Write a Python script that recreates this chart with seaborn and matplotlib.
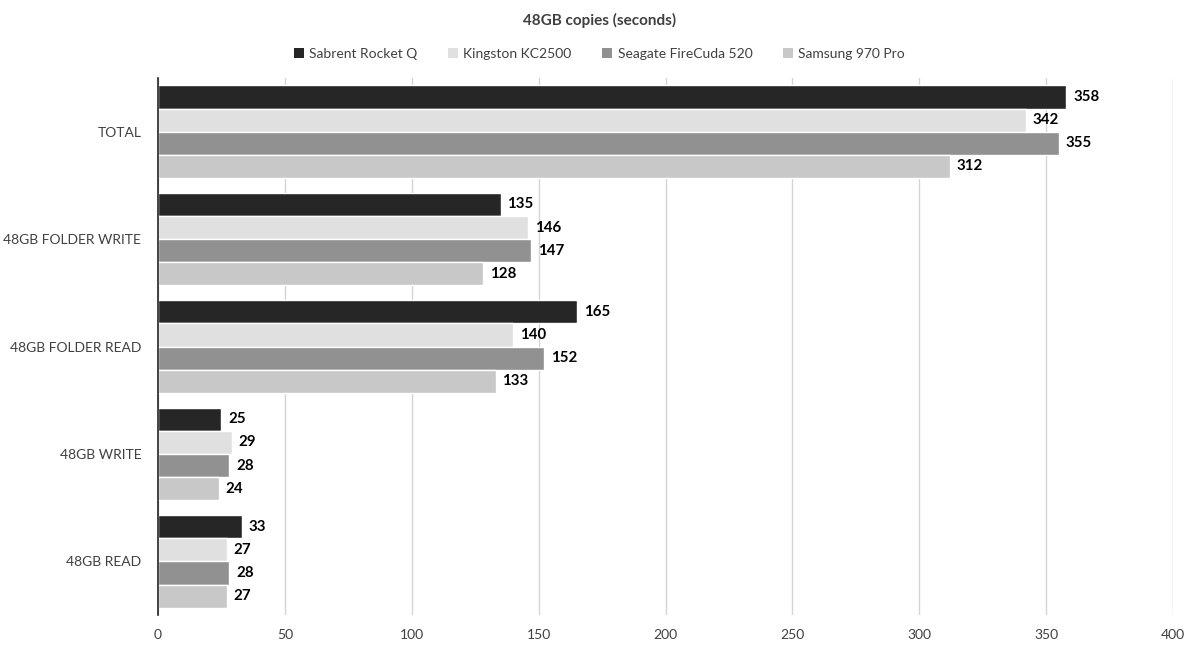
import matplotlib
matplotlib.use("Agg")
import matplotlib.pyplot as plt
import seaborn as sns
import pandas as pd
from matplotlib.patches import Patch

categories = ["TOTAL", "48GB FOLDER WRITE", "48GB FOLDER READ", "48GB WRITE", "48GB READ"]
drives = ["Sabrent Rocket Q", "Kingston KC2500", "Seagate FireCuda 520", "Samsung 970 Pro"]
sabrent = [358, 135, 165, 25, 33]
kingston = [342, 146, 140, 29, 27]
seagate = [355, 147, 152, 28, 28]
samsung = [312, 128, 133, 24, 27]
colors = ["#262626", "#e0e0e0", "#919191", "#c8c8c8"]
xticks = [0, 50, 100, 150, 200, 250, 300, 350, 400]

rows = []
for drv, vals in zip(drives, [sabrent, kingston, seagate, samsung]):
    for c, v in zip(categories, vals):
        rows.append({"cat": c, "drive": drv, "value": v})
df = pd.DataFrame(rows)

sns.set_theme(style="white")
plt.rcParams['font.family'] = ['Lato', 'DejaVu Sans']

fig = plt.figure(figsize=(11.99, 6.53), dpi=100)
ax = fig.add_axes([0.1318, 0.058, 0.8465, 0.8226])

sns.barplot(data=df, y="cat", x="value", hue="drive", order=categories,
            hue_order=drives, palette=colors, orient="h", width=0.86,
            edgecolor="white", linewidth=1, ax=ax, legend=False, errorbar=None)

for cont in ax.containers:
    ax.bar_label(cont, fmt="%d", padding=5, fontsize=10.8, fontweight="bold", color="black")

ax.set_xlim(0, 400)
ax.set_ylim(4.5, -0.5)
ax.set_xticks(xticks)
ax.set_xticklabels([str(t) for t in xticks])
ax.xaxis.grid(True, color="#d4d4d4", linewidth=1)
ax.set_axisbelow(True)
ax.set_xlabel("")
ax.set_ylabel("")
for s in ["top", "right", "bottom"]:
    ax.spines[s].set_visible(False)
ax.spines["left"].set_color("#222222")
ax.spines["left"].set_linewidth(1.2)
ax.tick_params(axis="x", length=0, pad=10, labelsize=10, colors="#404040")
ax.tick_params(axis="y", length=0, pad=12, labelsize=10, colors="#404040")

fig.text(0.5, 0.968, "48GB copies (seconds)", ha="center", va="center",
         fontsize=11, fontweight="bold", color="#404040")
handles = [Patch(facecolor=c, edgecolor="none") for c in colors]
fig.legend(handles, drives, loc="center", bbox_to_anchor=(0.5, 0.918), ncol=4,
           frameon=False, fontsize=10, handlelength=0.7, handleheight=0.7,
           handletextpad=0.4, columnspacing=2.2, labelcolor="#404040")

fig.savefig("out.png", dpi=100)
